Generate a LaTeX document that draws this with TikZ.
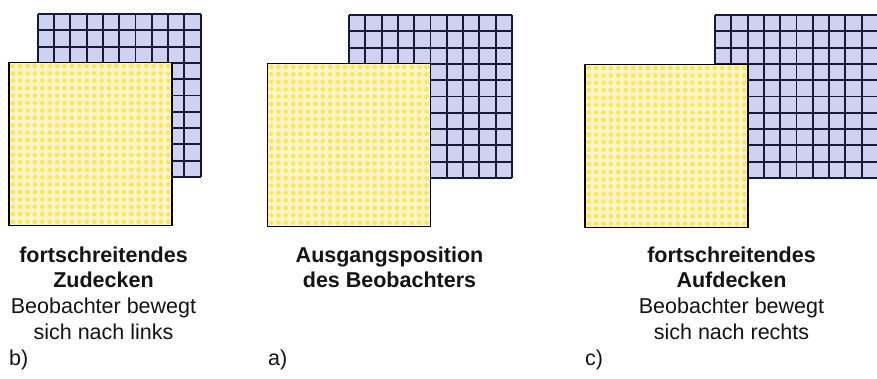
\documentclass[tikz,border=0pt]{standalone}
\usepackage{fontspec}
\setmainfont{Liberation Sans}
\definecolor{lav}{RGB}{206,210,240}
\definecolor{gridline}{RGB}{22,26,58}
\definecolor{ybg}{RGB}{251,244,205}
\definecolor{ydot}{RGB}{250,232,85}
\definecolor{txt}{RGB}{20,20,20}
\tikzset{
  bold/.style={font=\fontsize{21.5}{25}\selectfont\bfseries, text=txt, anchor=base, inner sep=0pt},
  plain/.style={font=\fontsize{21.5}{25}\selectfont, text=txt, anchor=base, inner sep=0pt},
  tag/.style={font=\fontsize{21.5}{25}\selectfont, text=txt, anchor=base west, inner sep=0pt},
}
\newcommand{\bluegrid}[2]{%
  \fill[lav] (#1,#2) rectangle ++(163,163);
  \foreach \k in {0,...,10}{
    \draw[gridline, line width=1.9pt] ({#1+16.3*\k},#2) -- ++(0,163);
    \draw[gridline, line width=1.9pt] (#1,{#2+16.3*\k}) -- ++(163,0);
  }
}
\newcommand{\yellowsq}[2]{%
  \fill[ybg] (#1,#2) rectangle ++(163,163);
  \foreach \i in {0,...,21}{
    \foreach \j in {0,...,21}{
      \fill[ydot] ({#1+3.7+7.41*\i},{#2+3.7+7.41*\j}) circle (2.4);
    }
  }
  \draw[black, line width=1.3pt] (#1,#2) rectangle ++(163,163);
}
\begin{document}
\begin{tikzpicture}[x=1pt,y=-1pt]
\useasboundingbox (0,0) rectangle (877,379);
\fill[white] (0,0) rectangle (877,379);
\begin{scope}
\clip (0,0) rectangle (877,379);
% panel b
\bluegrid{37.7}{14}
\yellowsq{9}{62.3}
% panel a
\bluegrid{349}{15}
\yellowsq{267.3}{63.3}
% panel c
\bluegrid{715}{15}
\yellowsq{585}{64.3}
\end{scope}
% texts b
\node[bold] (b1) at (103.5,262.3) {fortschreitendes};
\node[bold] (b2) at (103.5,287.8) {Zudecken};
\node[plain] (b3) at (103.5,313.8) {Beobachter bewegt};
\node[plain] (b4) at (103.5,339.3) {sich nach links};
\node[tag] (bt) at (9,365) {b)};
% texts a
\node[bold] (a1) at (389.5,262.3) {Ausgangsposition};
\node[bold] (a2) at (389.5,287.8) {des Beobachters};
\node[tag] (at) at (268,365) {a)};
% texts c
\node[bold] (c1) at (731.5,262.3) {fortschreitendes};
\node[bold] (c2) at (731.5,287.8) {Aufdecken};
\node[plain] (c3) at (731.5,313.8) {Beobachter bewegt};
\node[plain] (c4) at (731.5,339.3) {sich nach rechts};
\node[tag] (ct) at (585,365) {c)};
\end{tikzpicture}
\end{document}
